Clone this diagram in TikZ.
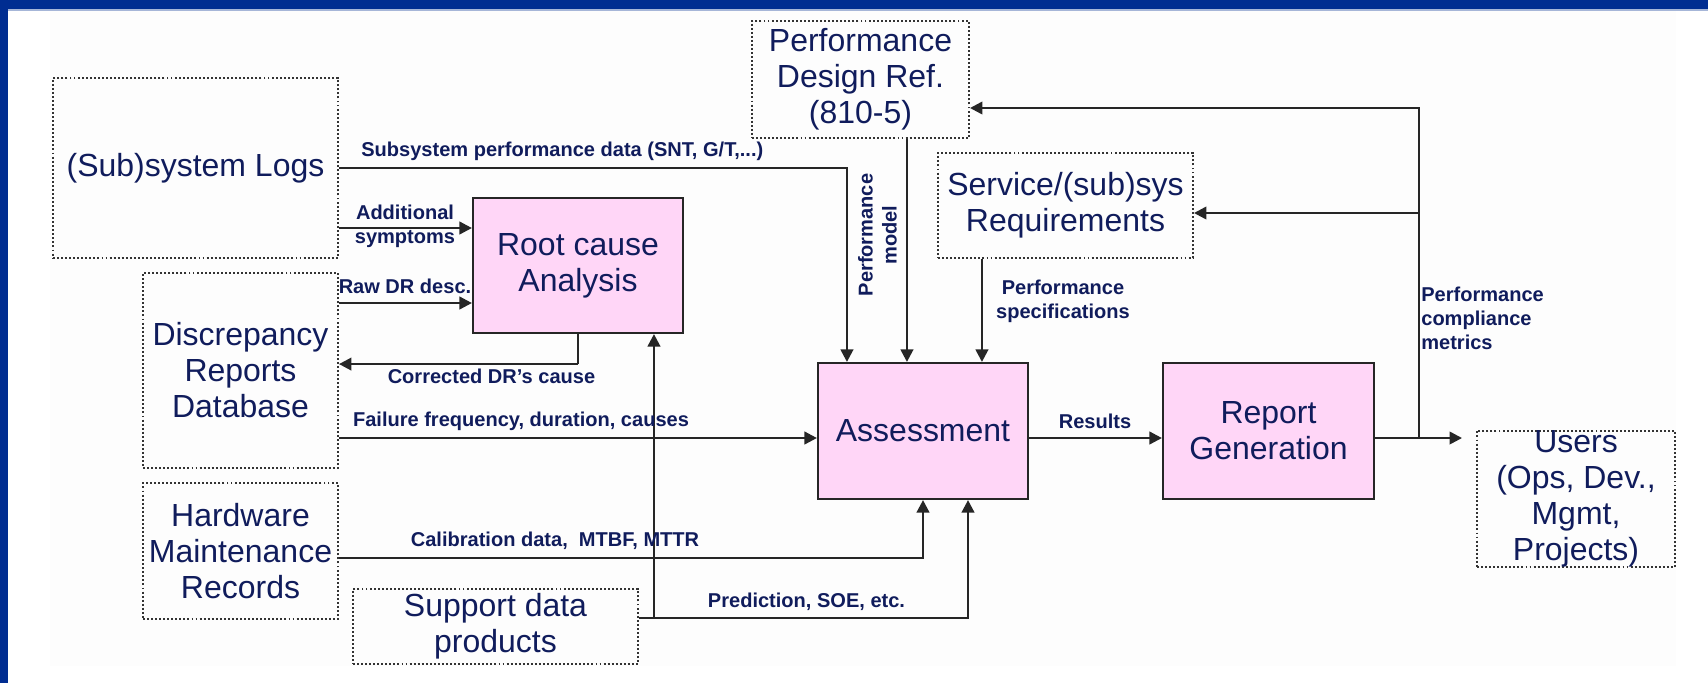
\documentclass[tikz,border=0pt]{standalone}
\usepackage{fontspec}
\setmainfont{Liberation Sans}
\usetikzlibrary{arrows.meta}
\definecolor{frameblue}{RGB}{0,45,145}
\definecolor{navy}{RGB}{16,28,92}
\definecolor{boxpink}{RGB}{255,214,247}
\begin{document}
\begin{tikzpicture}[x=0.2mm, y=-0.2mm,
  src/.style={draw=black!80, line width=1.1pt, dash pattern=on 1.1pt off 1.2pt,
    text=navy, align=center, inner sep=0pt, font=\fontsize{18.2}{20.5}\selectfont},
  proc/.style={draw=black!85, line width=1.2pt, fill=boxpink,
    text=navy, align=center, inner sep=0pt, font=\fontsize{18.2}{20.5}\selectfont},
  lbl/.style={text=navy, inner sep=0pt, font=\bfseries\fontsize{11.4}{13.6}\selectfont},
  flow/.style={draw=black!85, line width=1.4pt, -{Triangle[length=2.5mm,width=2.5mm]}},
  wire/.style={draw=black!85, line width=1.4pt}]
\useasboundingbox (0,0) rectangle (1708,683);
\fill[white] (0,0) rectangle (1708,683);
\fill[black!0.6] (50,10) rectangle (1676,666);
\fill[frameblue] (0,0) rectangle (1708,9);
\fill[frameblue] (0,0) rectangle (8,683);
\fill[frameblue!35] (8,9) rectangle (1708,10.5);

\node[src, minimum width=57mm, minimum height=36mm] (logs) at (195.5,168) {(Sub)system Logs};
\node[src, minimum width=39mm, minimum height=39mm] (discrep) at (240.5,370.5) {Discrepancy\\Reports\\Database};
\node[src, minimum width=39mm, minimum height=27.2mm] (hardware) at (240.5,551) {Hardware\\Maintenance\\Records};
\node[src, minimum width=57mm, minimum height=15mm] (support) at (495.5,626.5) {Support data\\products};
\node[src, minimum width=43.4mm, minimum height=23.4mm] (perf) at (860.5,79.5) {Performance\\Design Ref.\\(810-5)};
\node[src, minimum width=51mm, minimum height=21mm] (service) at (1065.5,205.5) {Service/(sub)sys\\Requirements};
\node[src, minimum width=39.6mm, minimum height=27.2mm] (users) at (1576,499) {Users\\(Ops, Dev.,\\Mgmt,\\Projects)};
\node[proc, minimum width=42mm, minimum height=27mm] (rootcause) at (578,265.5) {Root cause\\Analysis};
\node[proc, minimum width=42mm, minimum height=27.2mm] (assess) at (923,431) {Assessment};
\node[proc, minimum width=42.2mm, minimum height=27.2mm] (report) at (1268.5,431) {Report\\Generation};

\path ([xshift=18mm]assess.north west) coordinate (pm);
\path ([xshift=33mm]assess.north west) coordinate (ps);
\path ([yshift=-1.4mm]assess.west) coordinate (ain);
\path ([yshift=-1.4mm]assess.east) coordinate (aout);
\path ([yshift=-1.4mm]report.west) coordinate (rin);
\path ([yshift=-1.4mm]report.east) coordinate (rout);
\path ([xshift=8.8mm,yshift=-1.4mm]report.east) coordinate (fb);
\path ([yshift=7.5mm]rootcause.west) coordinate (sym);
\path ([yshift=-7.5mm]rootcause.west) coordinate (raw);
\path ([yshift=-6mm]rootcause.south) coordinate (cor);
\path ([yshift=1.7mm]support.east) coordinate (sup);
\path ([xshift=3mm,yshift=1.7mm]support.east) coordinate (sup2);

\draw[flow] (logs.east) -| ([xshift=6mm]assess.north west);
\draw[flow] (perf.south -| pm) -- (pm);
\draw[flow] (service.south -| ps) -- (ps);
\draw[flow] (logs.east |- sym) -- (sym);
\draw[flow] (discrep.east |- raw) -- (raw);
\draw[wire] (rootcause.south) -- (cor);
\draw[flow] (cor) -- (discrep.east |- cor);
\draw[flow] (discrep.east |- ain) -- (ain);
\draw[flow] ([yshift=-1.4mm]hardware.east) -| (assess.south);
\draw[flow] (sup) -| ([xshift=9mm]assess.south);
\draw[flow] (sup2) -- (rootcause.south -| sup2);
\draw[flow] (aout) -- (rin);
\draw[flow, shorten >=2.8mm] (rout) -- (users.west |- rout);
\draw[flow] (fb) |- ([yshift=-5.7mm]perf.east);
\draw[flow] (fb) |- ([yshift=-1.5mm]service.east);

\node[lbl, anchor=west] (lsub) at (361,151) {Subsystem performance data (SNT, G/T,...)};
\node[lbl, align=center] (lsym) at (405,226.5) {Additional\\symptoms};
\node[lbl] (lraw) at (405,286) {Raw DR desc.};
\node[lbl] (lcor) at (491.5,376) {Corrected DR's cause};
\node[lbl] (lfail) at (521,421) {Failure frequency, duration, causes};
\node[lbl] (lcal) at (555,541) {Calibration data,~ MTBF, MTTR};
\node[lbl] (lpred) at (806.5,602) {Prediction, SOE, etc.};
\node[lbl, align=center, rotate=90] (lmodel) at (877.5,235) {Performance\\model};
\node[lbl, align=center] (lspec) at (1063,301.5) {Performance\\specifications};
\node[lbl, align=left, anchor=west] (lcomp) at (1421,318) {Performance\\compliance\\metrics};
\node[lbl] (lres) at (1095,421) {Results};
\end{tikzpicture}
\end{document}
